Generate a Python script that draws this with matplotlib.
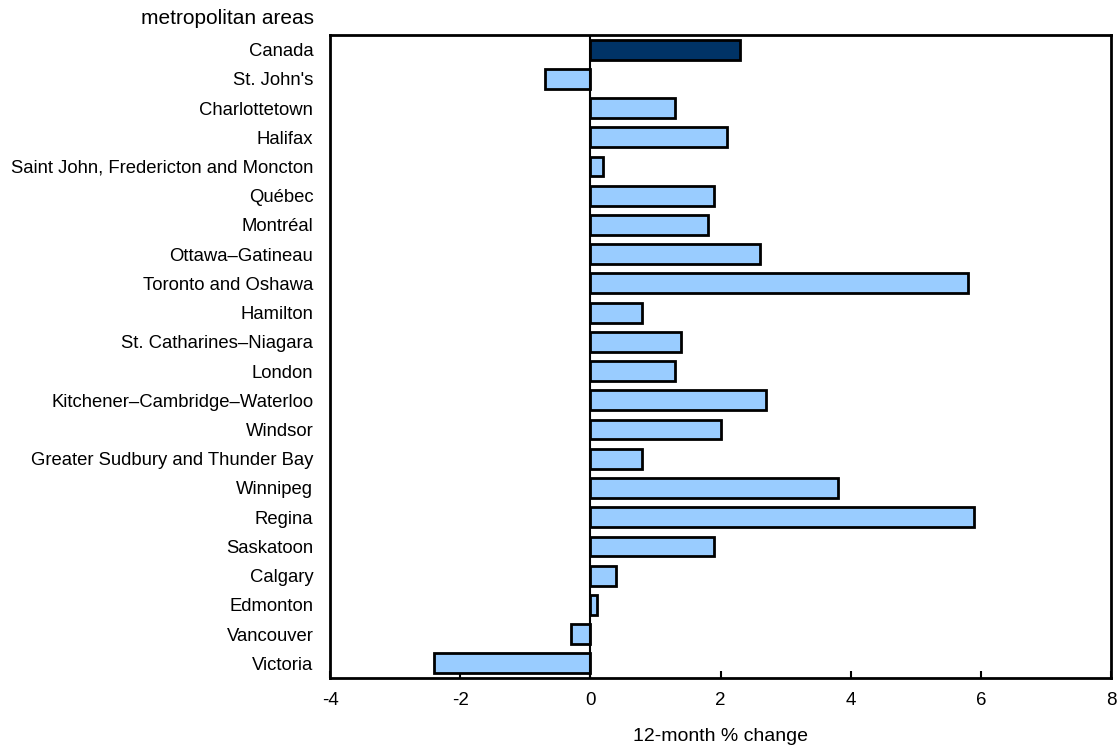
import matplotlib
matplotlib.use("Agg")
import matplotlib.pyplot as plt

areas = ["Canada", "St. John's", "Charlottetown", "Halifax",
         "Saint John, Fredericton and Moncton", "Québec", "Montréal",
         "Ottawa–Gatineau", "Toronto and Oshawa", "Hamilton",
         "St. Catharines–Niagara", "London", "Kitchener–Cambridge–Waterloo",
         "Windsor", "Greater Sudbury and Thunder Bay", "Winnipeg", "Regina",
         "Saskatoon", "Calgary", "Edmonton", "Vancouver", "Victoria"]
change = [2.3, -0.7, 1.3, 2.1, 0.2, 1.9, 1.8, 2.6, 5.8, 0.8, 1.4, 1.3,
          2.7, 2.0, 0.8, 3.8, 5.9, 1.9, 0.4, 0.1, -0.3, -2.4]
xticks = [-4, -2, 0, 2, 4, 6, 8]

plt.rcParams["font.family"] = ["Liberation Sans", "DejaVu Sans"]

fig = plt.figure(figsize=(11.18, 7.47), dpi=100)
ax = fig.add_axes([0.2952, 0.0924, 0.6986, 0.8608])

colors = ["#003366" if a == "Canada" else "#99CCFF" for a in areas]
ax.barh(range(len(areas)), change, height=0.68, color=colors,
        edgecolor="black", linewidth=2, zorder=3)
ax.axvline(0, color="black", linewidth=1.5, zorder=4)

ax.set_xlim(-4, 8)
ax.set_ylim(len(areas) - 0.5, -0.5)
ax.set_xticks(xticks)
ax.set_xticklabels([str(t) for t in xticks], fontsize=13.5)
ax.set_yticks(range(len(areas)))
ax.set_yticklabels(areas, fontsize=13.3)
ax.tick_params(axis="y", length=0, pad=12)
ax.tick_params(axis="x", direction="in", length=5, width=1.5, pad=10)
for s in ax.spines.values():
    s.set_linewidth(2)

ax.set_xlabel("12-month % change", fontsize=14, labelpad=14)
fig.text(0.281, 0.975, "metropolitan areas", ha="right", va="center", fontsize=15)

fig.savefig("out.png", dpi=100)
